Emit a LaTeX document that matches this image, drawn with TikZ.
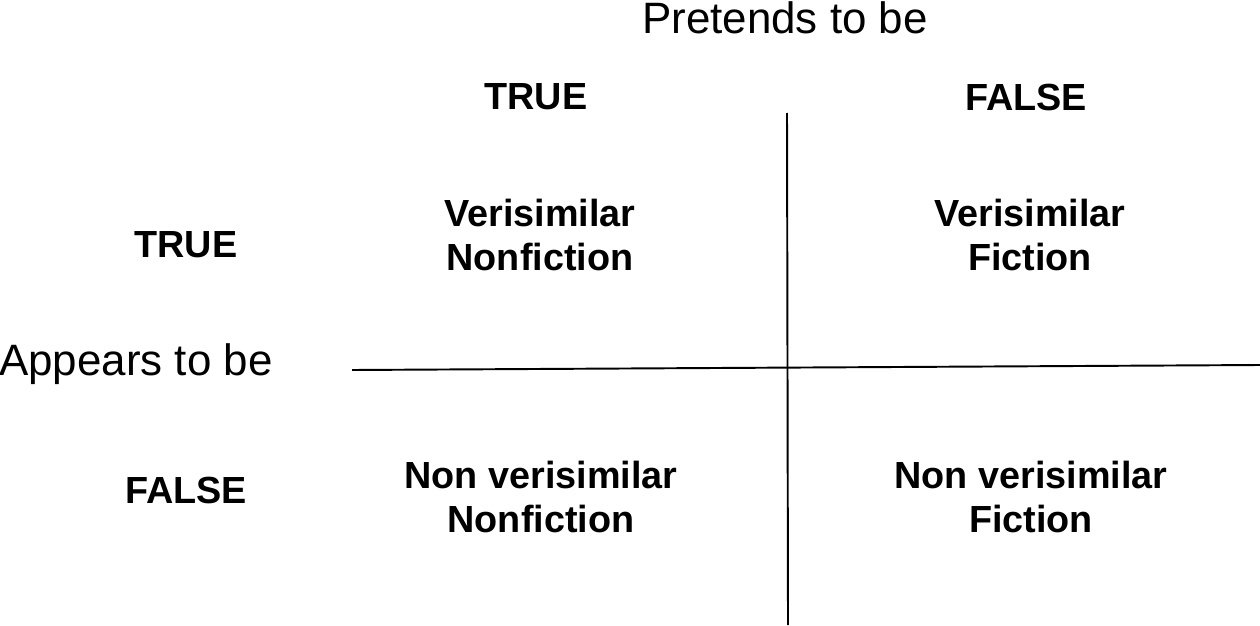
\documentclass[tikz,border=0pt]{standalone}
\usepackage{fontspec}
\setmainfont{Liberation Sans}
\begin{document}
\begin{tikzpicture}[x=0.02cm,y=-0.02cm,
  lbl/.style={font=\fontsize{25}{30}\selectfont},
  hd/.style={font=\fontsize{21.5}{25}\selectfont\bfseries, align=center},
  ln/.style={line width=1.1pt}]
\useasboundingbox (0,0) rectangle (1260,625);
\node[lbl] (pt) at (785,18) {Pretends to be};
\node[lbl] (ap) at (136,364) {Appears to be};
\node[hd] (ct) at (536,97) {TRUE};
\node[hd] (cf) at (1026,97) {FALSE};
\node[hd] (rt) at (186,245) {TRUE};
\node[hd] (rf) at (186,490) {FALSE};
\node[hd] (q1) at (540,235) {Verisimilar\\Nonfiction};
\node[hd] (q2) at (1030,235) {Verisimilar\\Fiction};
\node[hd] (q3) at (541,497) {Non verisimilar\\Nonfiction};
\node[hd] (q4) at (1031,497) {Non verisimilar\\Fiction};
\coordinate (vt) at (787,113);
\coordinate (vb) at (788,625);
\coordinate (hl) at (352,370);
\coordinate (hr) at (1260,365);
\draw[ln] (vt) -- (vb);
\draw[ln] (hl) -- (hr);
\end{tikzpicture}
\end{document}
